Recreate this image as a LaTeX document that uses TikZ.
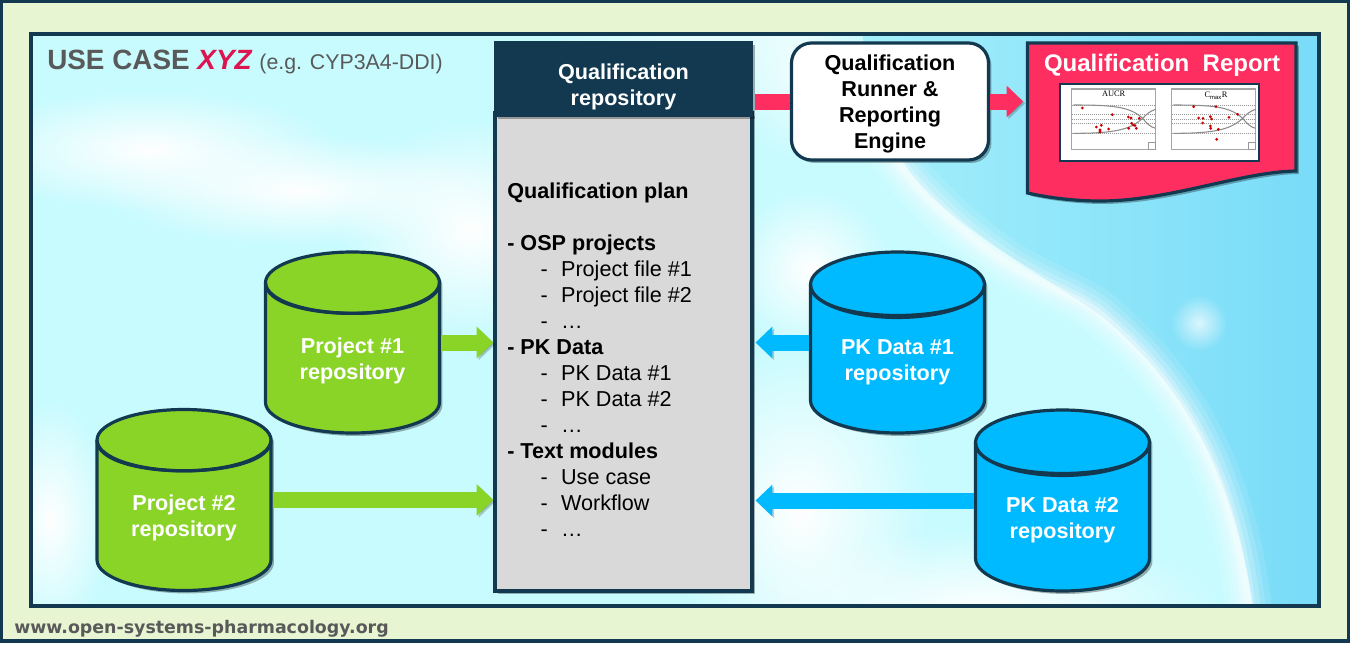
\documentclass[tikz,border=0pt]{standalone}
\usepackage{fontspec}
\setmainfont{Liberation Sans}
\newfontfamily\urlfont{DejaVu Sans}
\newfontfamily\plotfont{Liberation Serif}
\usetikzlibrary{arrows.meta,shadows,fadings,shapes.geometric}
\definecolor{navy}{HTML}{12394F}
\definecolor{paleleaf}{HTML}{E8F5D2}
\definecolor{leaf}{HTML}{8AD428}
\definecolor{sky}{HTML}{00BAFF}
\definecolor{rose}{HTML}{FF2E60}
\definecolor{crimson}{HTML}{DC1450}
\definecolor{ink}{HTML}{595959}
\definecolor{plate}{HTML}{D9D9D9}
\definecolor{ice}{HTML}{C8FBFE}
\definecolor{midsky}{HTML}{A4EFFB}
\definecolor{farsky}{HTML}{78DBF8}
\def\u{0.75pt}
\tikzfading[name=softblob,inner color=transparent!0,outer color=transparent!100]
\tikzset{
  softshadow/.style={drop shadow={shadow xshift=2.2pt,shadow yshift=-2.2pt,opacity=.3,fill=black}},
  barrel/.style={cylinder,shape border rotate=90,aspect=.58,draw=navy,line width=2.4pt,outer sep=0pt,
    minimum width=174*\u,minimum height=181*\u,inner sep=0pt,align=center,text=white,
    font=\fontsize{16.2}{19.5}\selectfont\bfseries,softshadow,anchor=shape center},
  flow/.style={line width=12pt,-{Triangle[length=12.5pt,width=23pt]}},
  barrelflow/.style={flow,shorten <=1.2pt},
  flowshadow/.style={preaction={draw=black,opacity=.2,transform canvas={xshift=1.4pt,yshift=-1.4pt}}},
  blob/.style={white,path fading=softblob},
}
\begin{document}
\begin{tikzpicture}[x=\u,y=-\u]
\useasboundingbox (0,0) rectangle (1350,650);
\fill[white] (0,0) rectangle (1350,650);
\draw[navy,line width=2.4pt,fill=paleleaf] (1.5,1.5) rectangle (1348.5,641);
% panel with the blurred backdrop
\begin{scope}
\clip (31,34) rectangle (1319,606);
\fill[ice] (31,34) rectangle (1319,606);
\fill[blob,opacity=.9] (700,-40) ellipse (170 and 170);
\fill[blob] (150,150) ellipse (190 and 60);
\fill[blob] (300,190) ellipse (200 and 55);
\fill[blob] (470,230) ellipse (130 and 110);
\fill[blob] (50,520) ellipse (60 and 120);
\fill[blob] (800,510) ellipse (130 and 170);
\fill[blob] (980,610) ellipse (240 and 80);
\fill[blob] (810,270) ellipse (80 and 80);
\shade[left color=midsky,right color=farsky]
  (860,20) .. controls (870,90) and (890,150) .. (920,185)
  .. controls (960,230) and (1050,280) .. (1100,315)
  .. controls (1180,380) and (1235,470) .. (1255,620) -- (1330,620) -- (1330,20) -- cycle;
\foreach \w/\o in {46/.1,34/.14,24/.18,14/.25,7/.35}{
\draw[white,opacity=\o,line width=\w*\u,line cap=round]
  (890,150) .. controls (900,170) and (950,225) .. (1000,258)
  .. controls (1040,285) and (1075,295) .. (1098,312)
  .. controls (1180,380) and (1235,470) .. (1250,620);
}
\fill[blob,opacity=.7] (800,70) ellipse (70 and 90);
\fill[blob,opacity=.7] (1199,323) circle (28);
\end{scope}
\draw[navy,line width=2.6pt] (31,34) rectangle (1319,606);
\node[anchor=west,inner sep=0pt,text=ink,font=\fontsize{20.9}{25}\selectfont\bfseries] (usecase) at (47,62)
  {USE CASE {\color{crimson}\itshape XYZ} {\fontsize{16}{19}\selectfont\mdseries (e.g. CYP3A4-DDI)}};
\node[anchor=west,inner sep=0pt,text=ink,font=\fontsize{13.05}{16}\urlfont\bfseries] (website) at (14,629)
  {www.open-systems-pharmacology.org};
% central repository
\node[draw=navy,line width=2.4pt,fill=plate,minimum width=257*\u,minimum height=478*\u,softshadow] (planbox) at (623.5,352) {};
\node[draw=navy,line width=1pt,fill=navy,minimum width=257*\u,minimum height=74*\u,align=center,text=white,
  font=\fontsize{16.2}{19.5}\selectfont\bfseries,softshadow] (qrepo) at (623.5,79) {\rule{0pt}{24pt}Qualification\\repository};
\node[anchor=north west,inner sep=0pt,align=left,font=\fontsize{16.2}{19.5}\selectfont] (plantext) at (507,183)
  {\textbf{Qualification plan}\\[19.5pt]
   \textbf{- OSP projects}\\
   \hspace*{25pt}-\hspace*{10pt}Project file \#1\\
   \hspace*{25pt}-\hspace*{10pt}Project file \#2\\
   \hspace*{25pt}-\hspace*{10pt}…\\
   \textbf{- PK Data}\\
   \hspace*{25pt}-\hspace*{10pt}PK Data \#1\\
   \hspace*{25pt}-\hspace*{10pt}PK Data \#2\\
   \hspace*{25pt}-\hspace*{10pt}…\\
   \textbf{- Text modules}\\
   \hspace*{25pt}-\hspace*{10pt}Use case\\
   \hspace*{25pt}-\hspace*{10pt}Workflow\\
   \hspace*{25pt}-\hspace*{10pt}…};
% runner and report
\node[draw=navy,line width=2.4pt,fill=white,rounded corners=15pt,minimum width=197*\u,minimum height=117*\u,
  align=center,font=\fontsize{16.2}{19.5}\selectfont\bfseries,softshadow] (runner) at (890,101.5)
  {\rule{0pt}{15pt}Qualification\\Runner \&\\Reporting\\Engine};
\draw[navy,line width=2.4pt,fill=rose,softshadow] (1027.5,43) -- (1296,43) -- (1296,171)
  .. controls (1240,172) and (1170,201) .. (1100,201) .. controls (1075,201) and (1050,198) .. (1027.5,193) -- cycle;
\node[minimum width=268.5*\u,minimum height=117*\u] (report) at (1161.75,101.5) {};
\node[text=white,font=\fontsize{18}{22}\selectfont\bfseries,inner sep=0pt] (reporttitle) at (1162,65) {Qualification\ \ Report};
% the two small plots
\node[draw=navy,line width=1pt,fill=white,minimum width=199*\u,minimum height=77*\u] (plots) at (1159.5,122.5) {};
\begin{scope}[shift={(1020,30)},x=\u/3,y=-\u/3]
\foreach \s in {0,300}{
\begin{scope}[shift={(\s,0)}]
\foreach \g in {225,253,268,281,310}{
\draw[black!40,line width=.4pt,dash pattern=on 1pt off .5pt] (155,\g)--(407,\g);
}
\draw[black!35,line width=.9pt] (155,177) rectangle (407,358);
\draw[black!45,line width=.8pt] (160,225) .. controls (280,225) and (330,230) .. (368,265) .. controls (380,280) and (392,292) .. (407,295);
\draw[black!45,line width=.8pt] (160,310) .. controls (280,310) and (330,300) .. (368,265) .. controls (380,252) and (392,242) .. (407,238);
\draw[black!40,line width=.4pt] (385,338) rectangle (405,358);
\end{scope}
}
\foreach \x/\y in {187/234,277/254,325/261,333/264,358/265,229/291,244/286,240/300,240/306,266/297,326/295,335/280,340/285,345/287,349/295,
  521/230,588/230,536/264,549/265,571/260,575/267,627/262,653/253,548/279,571/288,572/295,595/298,590/328}{
\fill[red!80!black] (\x,\y) circle (4.6);
}
\node[font=\fontsize{6.3}{7}\plotfont,inner sep=0pt] (aucr) at (281,192) {AUCR};
\node[font=\fontsize{6.3}{7}\plotfont,inner sep=0pt] (cmaxr) at (588,197) {C$_{\mathrm{max}}$R};
\end{scope}
% repositories
\foreach \name/\col/\x/\y/\txt in {projone/leaf/352.5/342.5/Project \#1,projtwo/leaf/184/500/Project \#2,
  pkone/sky/897.5/342.5/PK Data \#1,pktwo/sky/1062.5/500.5/PK Data \#2}{
\node[barrel,fill=\col] (\name) at (\x,\y) {\rule{0pt}{15pt}\txt\\repository};
\draw[navy,line width=2.4pt] (\name.before top) .. controls +(0,41) and +(0,41) .. (\name.after top);
}
\draw[barrelflow,leaf,flowshadow] (projone.shape center -| projone.east) -- (projone.shape center -| planbox.west);
\draw[barrelflow,leaf,flowshadow] (projtwo.shape center -| projtwo.east) -- (projtwo.shape center -| planbox.west);
\draw[barrelflow,sky,flowshadow,shorten >=1.5pt] (pkone.shape center -| pkone.west) -- (pkone.shape center -| planbox.east);
\draw[barrelflow,sky,flowshadow,shorten >=1.5pt] (pktwo.shape center -| pktwo.west) -- (pktwo.shape center -| planbox.east);
\draw[line width=12pt,rose,flowshadow,shorten <=2pt] (runner.west -| qrepo.east) -- (runner.west);
\draw[flow,rose,flowshadow,shorten >=3pt] (runner.east) -- (report.west);
\end{tikzpicture}
\end{document}
